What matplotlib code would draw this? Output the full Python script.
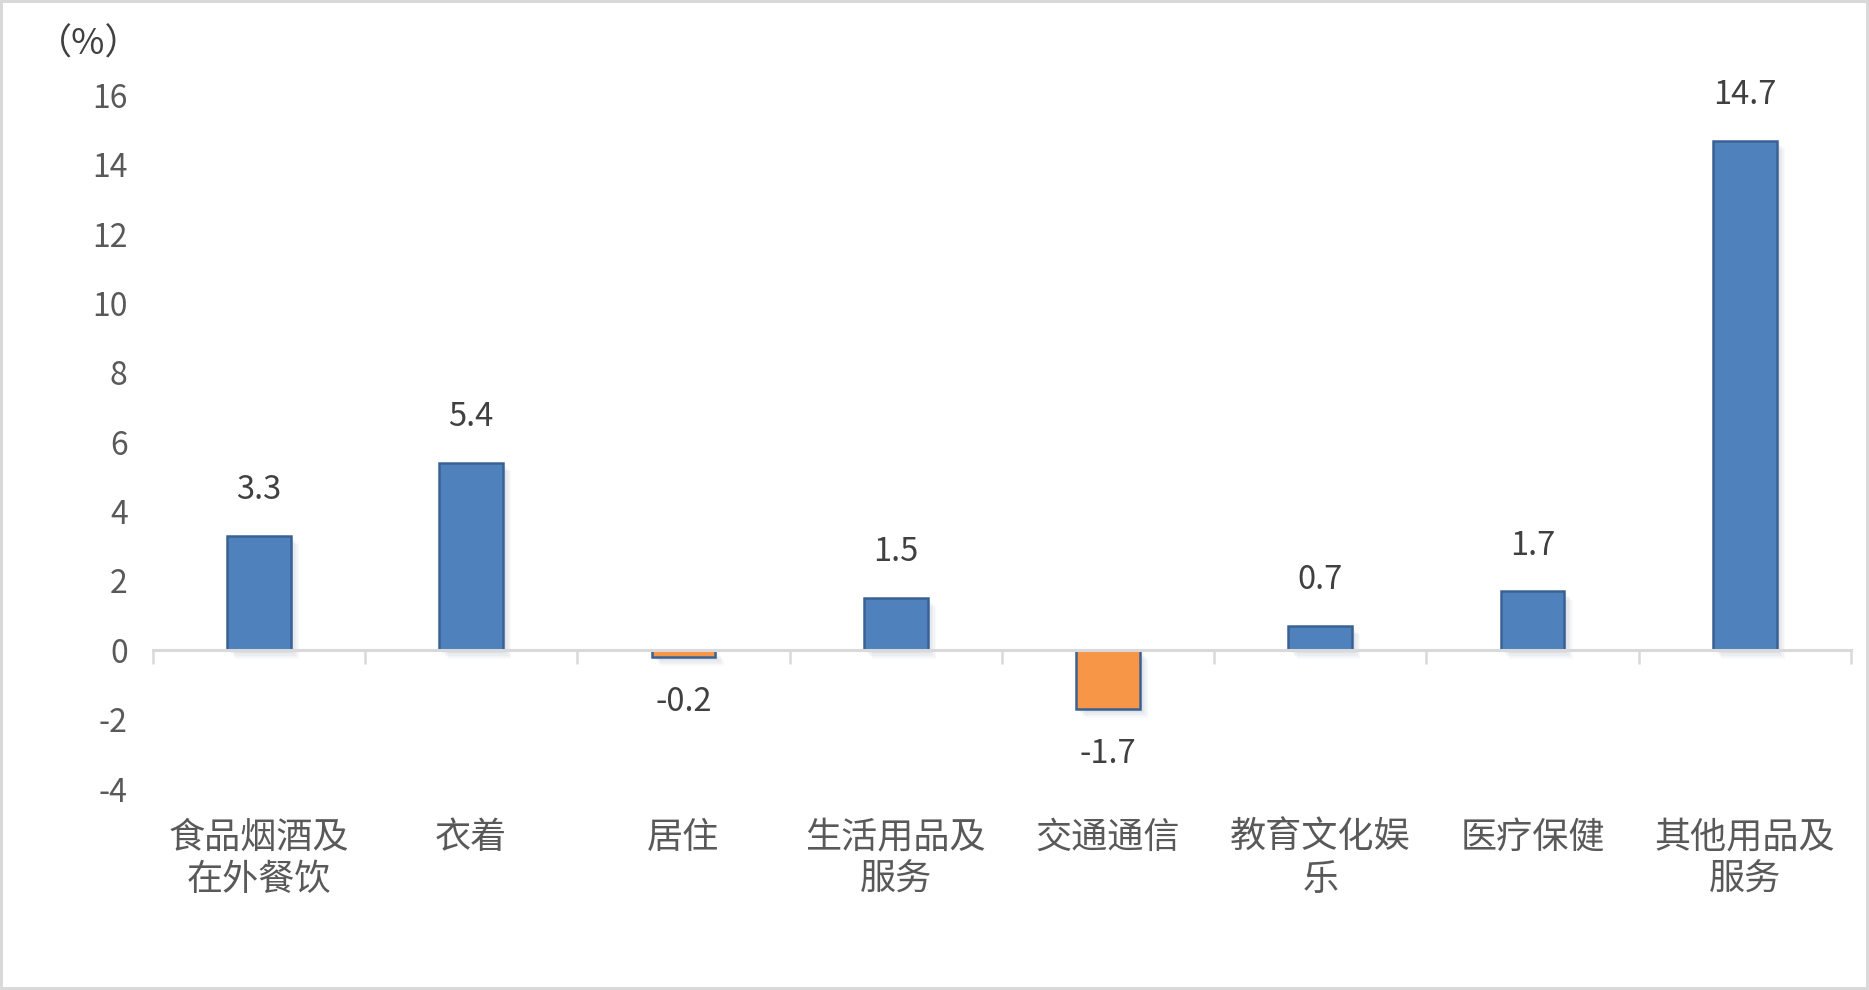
import matplotlib
matplotlib.use("Agg")
import matplotlib.pyplot as plt
import matplotlib.patheffects as pe
import numpy as np

plt.rcParams['font.family'] = ['Noto Sans CJK SC', 'DejaVu Sans']

categories = ["食品烟酒及\n在外餐饮", "衣着", "居住", "生活用品及\n服务",
              "交通通信", "教育文化娱\n乐", "医疗保健", "其他用品及\n服务"]
values = [3.3, 5.4, -0.2, 1.5, -1.7, 0.7, 1.7, 14.7]
yticks = [-4, -2, 0, 2, 4, 6, 8, 10, 12, 14, 16]
value_labels = ["3.3", "5.4", "-0.2", "1.5", "-1.7", "0.7", "1.7", "14.7"]

BLUE = "#4f81bd"
ORANGE = "#f79646"
EDGE = "#3a6194"
GRID = "#d9d9d9"
TICKC = "#595959"

fig = plt.figure(figsize=(18.69, 9.90), dpi=100)
fig.patch.set_facecolor("white")
fig.patch.set_edgecolor(GRID)
fig.patch.set_linewidth(4)

ax = fig.add_axes([0.0817, 0.203, 0.9087, 0.7006])
x = np.arange(len(categories))
colors = [BLUE if v >= 0 else ORANGE for v in values]

shadow = [pe.SimplePatchShadow(offset=(d, -d), shadow_rgbFace="#7f8da8", alpha=0.05)
          for d in (1, 2, 3, 4, 5, 6)] + [pe.Normal()]
bars = ax.bar(x, values, width=0.30, color=colors, edgecolor=EDGE, linewidth=1.8, zorder=2)
for b in bars:
    b.set_path_effects(shadow)

for xi, v, lab in zip(x, values, value_labels):
    off = 33 if v >= 0 else -32
    ax.annotate(lab, (xi, v), xytext=(0, off), textcoords="offset points",
                ha="center", va="center", fontsize=23.5, color="#404040")

ax.set_xlim(-0.5, len(categories) - 0.5)
ax.set_ylim(-4, 16)
ax.set_yticks(yticks)
ax.set_yticklabels([str(t) for t in yticks])
ax.tick_params(axis="y", length=0, pad=18, labelsize=23, labelcolor=TICKC)

for s in ("left", "right", "top"):
    ax.spines[s].set_visible(False)
ax.spines["bottom"].set_position(("data", 0))
ax.spines["bottom"].set_color(GRID)
ax.spines["bottom"].set_linewidth(2.2)
ax.spines["bottom"].set_zorder(3)
ax.set_xticks([])
ax.set_xticks(np.arange(len(categories) + 1) - 0.5, minor=True)
ax.tick_params(axis="x", which="minor", direction="out", length=10, width=1.8,
               color=GRID, labelbottom=False)

sec = ax.secondary_xaxis("bottom")
sec.set_xticks(x, labels=categories)
sec.spines["bottom"].set_visible(False)
sec.tick_params(axis="x", length=0, pad=22, labelsize=26, labelcolor=TICKC)
for t in sec.get_xticklabels():
    t.set_linespacing(1.23)

fig.text(0.019, 0.955, "（%）", fontsize=26, color="#404040", ha="left", va="center")

fig.savefig("out.png", dpi=100, facecolor=fig.get_facecolor(), edgecolor=fig.get_edgecolor())
